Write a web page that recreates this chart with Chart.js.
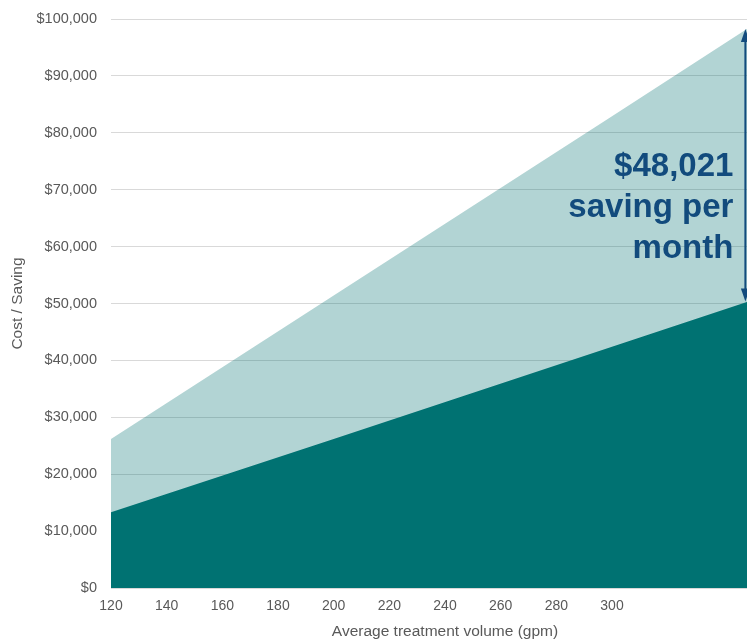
<!DOCTYPE html>
<html>
<head>
<meta charset="utf-8">
<script src="https://cdn.jsdelivr.net/npm/chart.js@4/dist/chart.umd.min.js"></script>
<style>
  html, body { margin: 0; padding: 0; background: #fff; overflow: hidden; width: 747px; height: 642px; }
  #wrap { position: relative; width: 783px; height: 642px; }
</style>
</head>
<body>
<div id="wrap"><canvas id="c" width="783" height="642"></canvas></div>
<script>
// ---- data ----
const volumes = [120, 200, 300, 349];                 // Average treatment volume (gpm)
const costWithout = [26200, 51400, 82900, 98400];     // light area (upper)
const costWith = [13300, 26200, 42400, 50350];        // dark area (lower)
const xTickLabels = ['120','140','160','180','200','220','240','260','280','300'];
const savingLabel = ['$48,021', 'saving per', 'month'];

const FONT = "'Liberation Sans', Arial, sans-serif";
const GRAY = '#595959';
const NAVY = '#124b7d';

const annotation = {
  id: 'annotation',
  afterDraw(chart) {
    const {ctx, scales: {x, y}} = chart;
    const n = volumes.length - 1;
    const ax = x.getPixelForValue(volumes[n]) - 3;
    const yTop = y.getPixelForValue(costWithout[n]) + 1;
    const yBot = y.getPixelForValue(costWith[n]);
    ctx.save();
    ctx.strokeStyle = NAVY;
    ctx.fillStyle = NAVY;
    ctx.lineWidth = 2;
    const head = 13, hw = 4.5;
    ctx.beginPath();
    ctx.moveTo(ax, yTop + head - 2);
    ctx.lineTo(ax, yBot - head + 2);
    ctx.stroke();
    ctx.beginPath();
    ctx.moveTo(ax, yTop); ctx.lineTo(ax - hw, yTop + head); ctx.lineTo(ax + hw, yTop + head); ctx.closePath(); ctx.fill();
    ctx.beginPath();
    ctx.moveTo(ax, yBot); ctx.lineTo(ax - hw, yBot - head); ctx.lineTo(ax + hw, yBot - head); ctx.closePath(); ctx.fill();
    // text
    ctx.font = "bold 33px " + FONT;
    ctx.textAlign = 'right';
    ctx.textBaseline = 'alphabetic';
    const tx = ax - 12;
    const base = [176, 217, 258];
    savingLabel.forEach((t, i) => ctx.fillText(t, tx, base[i]));
    ctx.restore();
  }
};

new Chart(document.getElementById('c'), {
  type: 'line',
  data: {
    datasets: [
      {
        label: 'With',
        data: volumes.map((v, i) => ({x: v, y: costWith[i]})),
        backgroundColor: 'rgb(0,114,114)',
        borderWidth: 0,
        pointRadius: 0,
        fill: 'origin',
        tension: 0
      },
      {
        label: 'Without',
        data: volumes.map((v, i) => ({x: v, y: costWithout[i]})),
        backgroundColor: 'rgba(0,114,114,0.30)',
        borderWidth: 0,
        pointRadius: 0,
        fill: 'origin',
        tension: 0
      }
    ]
  },
  options: {
    responsive: false,
    animation: false,
    layout: { padding: { left: 0, right: 4, top: 19, bottom: 0 } },
    plugins: { legend: { display: false }, tooltip: { enabled: false } },
    scales: {
      x: {
        type: 'linear',
        min: 120, max: 360,
        afterFit(s) { s.height = 54; s.paddingLeft = 0; s.paddingRight = 0; },
        grid: { display: false, drawTicks: false },
        border: { display: true, color: '#d9d9d9', width: 1 },
        ticks: {
          stepSize: 20, autoSkip: false, maxRotation: 0, padding: 10,
          color: GRAY, font: { family: FONT, size: 14 },
          callback: (v) => xTickLabels.includes(String(v)) ? String(v) : ''
        },
        title: { display: true, text: 'Average treatment volume (gpm)', color: GRAY,
                 font: { family: FONT, size: 15.5 }, padding: { top: 2, bottom: 1 } }
      },
      y: {
        min: 0, max: 100000,
        afterFit(s) { s.width = 111; s.paddingTop = 0; s.paddingBottom = 0; },
        grid: { color: '#d9d9d9', lineWidth: 1, drawTicks: false },
        border: { display: false },
        ticks: {
          stepSize: 10000, padding: 14, color: GRAY, font: { family: FONT, size: 14.5 },
          callback: (v) => '$' + v.toLocaleString('en-US')
        },
        title: { display: true, text: 'Cost / Saving', color: GRAY,
                 font: { family: FONT, size: 15.5 }, padding: { top: 8, bottom: 0 } }
      }
    }
  },
  plugins: [annotation]
});
</script>
</body>
</html>
